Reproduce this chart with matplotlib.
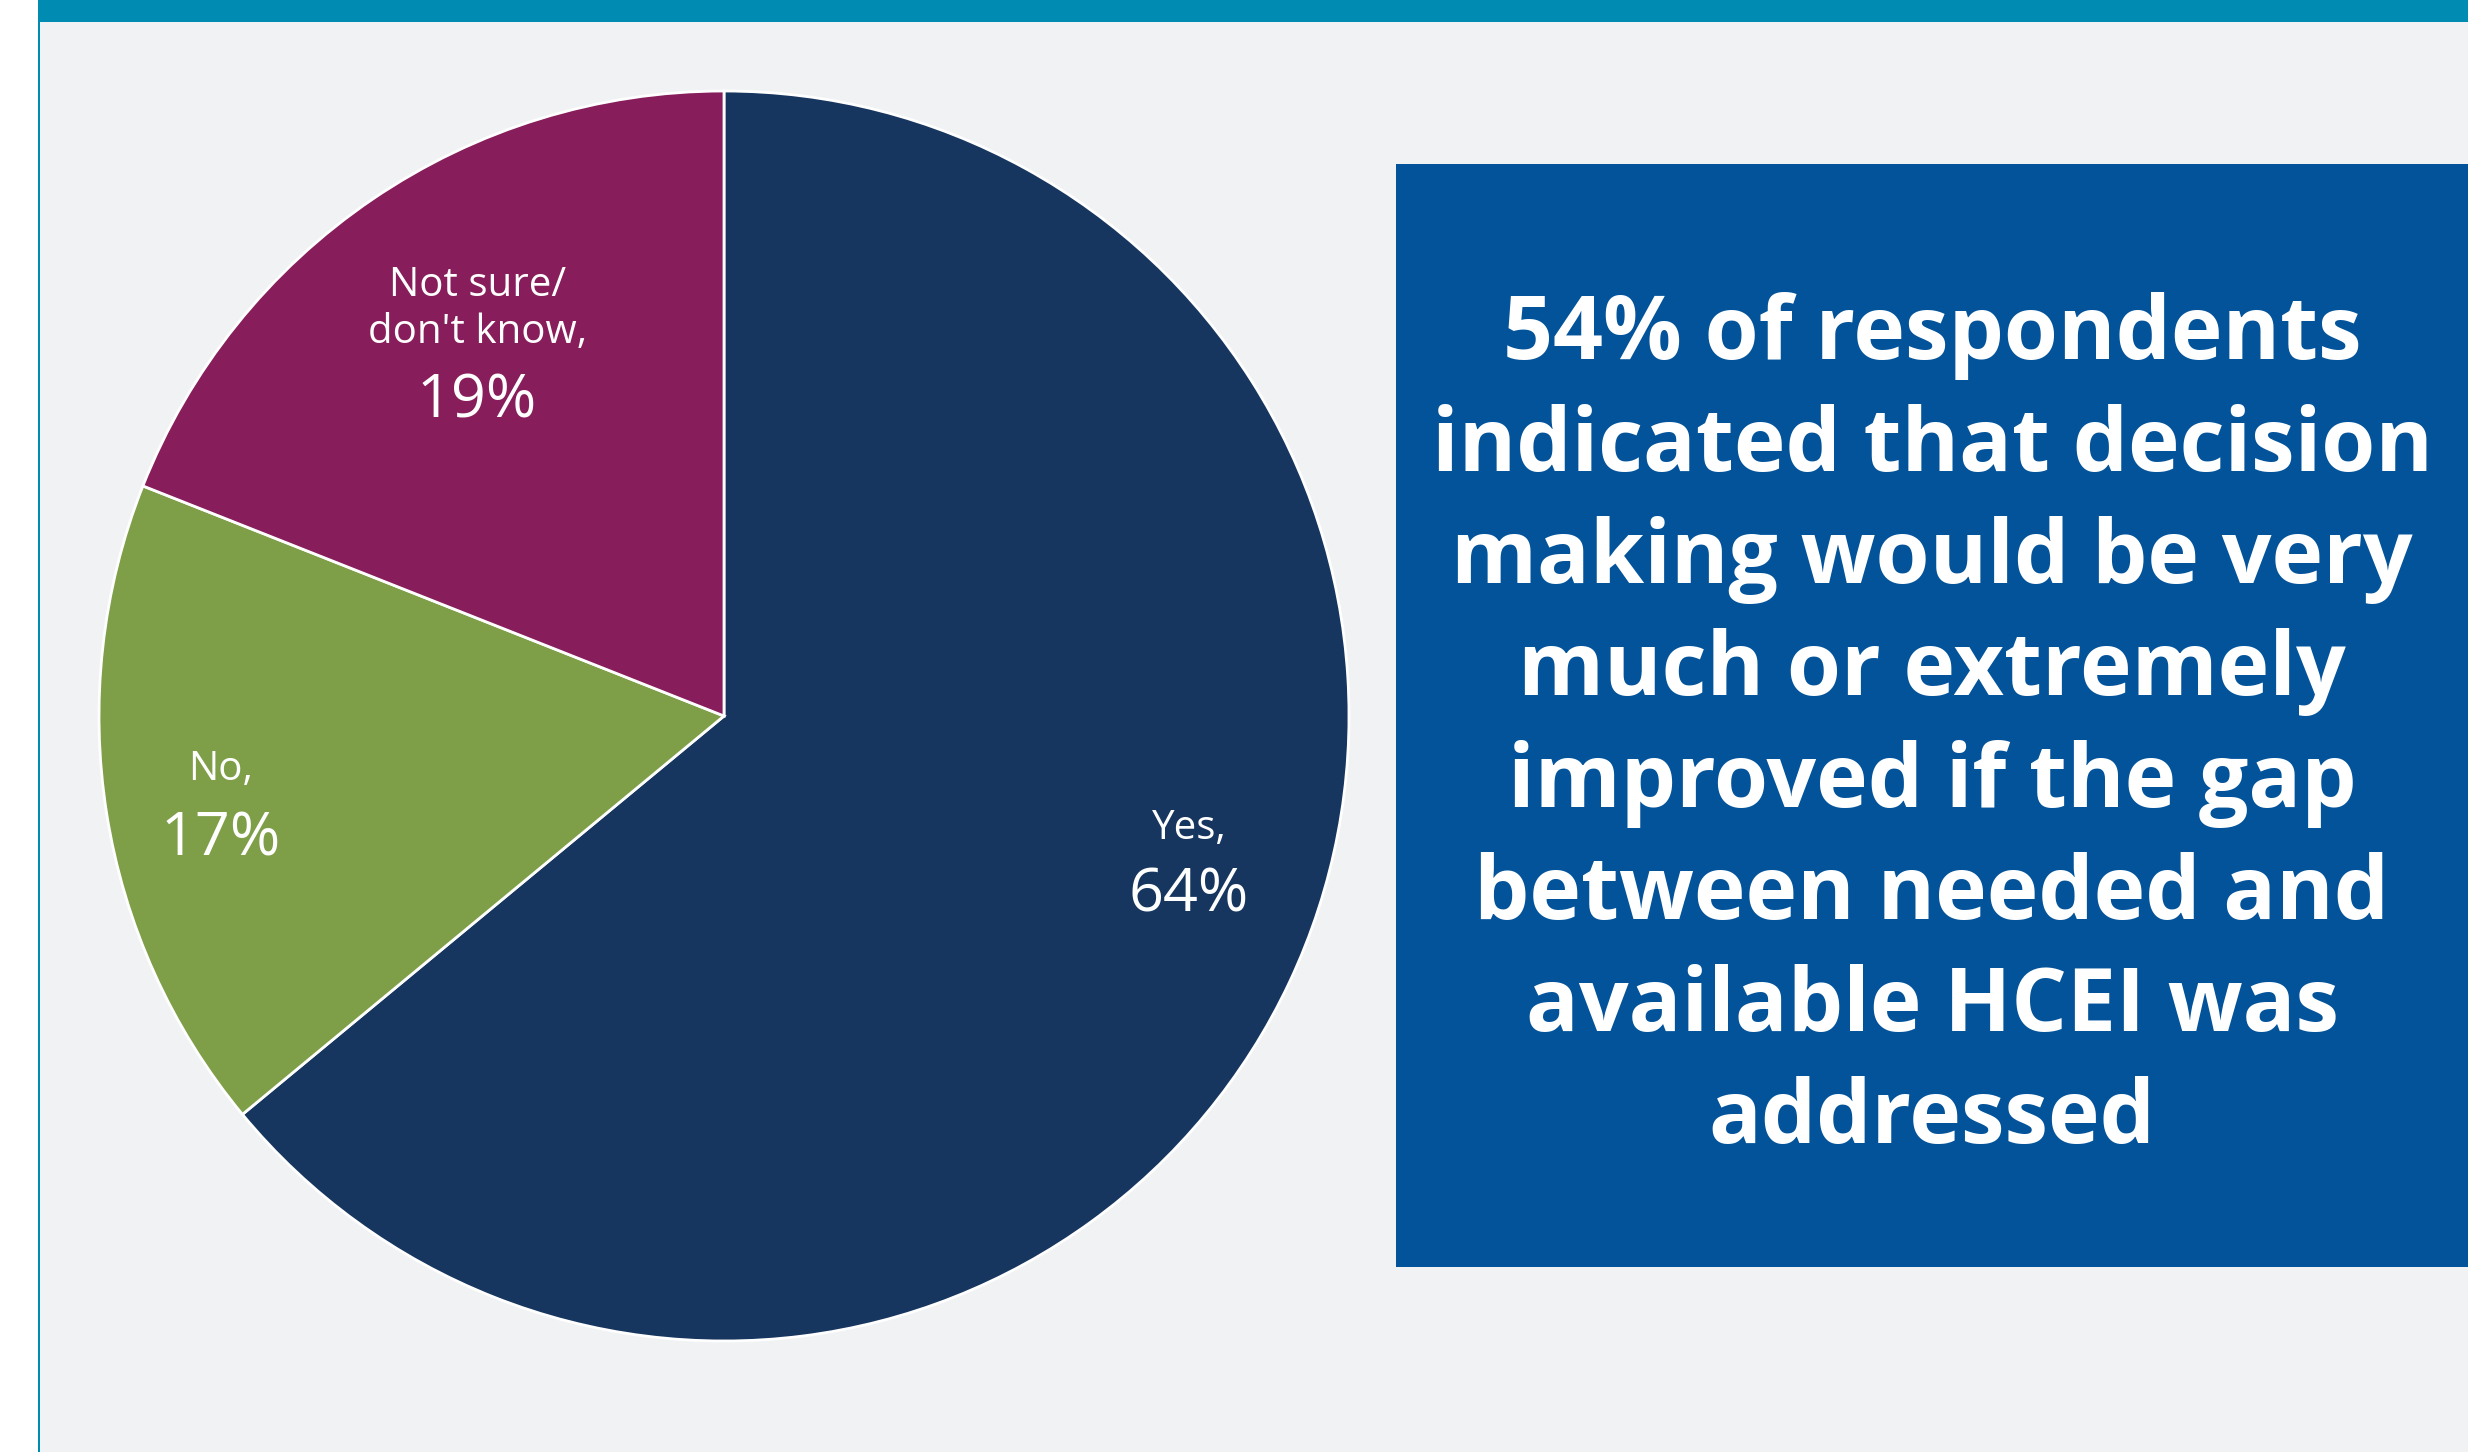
import numpy as np
import matplotlib as mpl
mpl.use('Agg')
from matplotlib import pyplot as plt
from matplotlib.patches import Rectangle

# survey answers, clockwise from 12 o'clock
answers = ['Yes', 'No', 'Not sure/\ndon\'t know']
shares = [64, 17, 19]
colors = ['#17365F', '#7E9F48', '#881D5B']
headline = ('54% of respondents\nindicated that decision\nmaking would be very\n'
            'much or extremely\nimproved if the gap\nbetween needed and\n'
            'available HCEI was\naddressed')

W, H = 2468, 1452
fig = plt.figure(figsize=(W / 100, H / 100), dpi=100)
fig.patch.set_facecolor('white')

# page background, teal header strip and left rule
fig.patches.append(Rectangle((40 / W, 0), 1, 1, transform=fig.transFigure,
                             facecolor='#F1F2F4', edgecolor='none', zorder=0))
fig.patches.append(Rectangle((38 / W, 1 - 22 / H), 1, 22 / H, transform=fig.transFigure,
                             facecolor='#008CB2', edgecolor='none', zorder=1))
fig.patches.append(Rectangle((38 / W, 0), 2 / W, 1, transform=fig.transFigure,
                             facecolor='#008CB2', edgecolor='none', zorder=1))

# pie
cx, cy, r = 724, 716, 625
ax = fig.add_axes([(cx - r) / W, (H - cy - r) / H, 2 * r / W, 2 * r / H])
ax.set_zorder(5)
ax.patch.set_visible(False)
ax.pie(shares, colors=colors, startangle=90, counterclock=False,
       wedgeprops=dict(edgecolor='white', linewidth=2))
ax.set_xlim(-1, 1)
ax.set_ylim(-1, 1)
ax.set_aspect('equal')
ax.axis('off')

lab_font = 'Open Sans'
# (x, y) of the name line and of the percent line, in pie radii
label_pos = {'Yes': ((0.744, -0.180), (0.744, -0.288)),
             'No': ((-0.806, -0.086), (-0.806, -0.197)),
             'Not sure/\ndon\'t know': ((-0.395, 0.651), (-0.395, 0.503))}
for name, val in zip(answers, shares):
    (nx, ny), (px, py) = label_pos[name]
    ax.text(nx, ny, name + ',', ha='center', va='center', color='white',
            fontsize=29, family=lab_font, linespacing=1.22)
    ax.text(px, py, f'{val}%', ha='center', va='center', color='white',
            fontsize=44, family=lab_font)

# callout box
bx0, bx1, by0, by1 = 1396, 2468, 164, 1267
fig.patches.append(Rectangle((bx0 / W, 1 - by1 / H), (bx1 - bx0) / W, (by1 - by0) / H,
                             transform=fig.transFigure, facecolor='#03539B',
                             edgecolor='none', zorder=2))
fig.text((bx0 + bx1) / 2 / W, 1 - 728 / H, headline, ha='center', va='center',
         color='white', fontsize=63, fontweight='bold', family='Open Sans',
         linespacing=1.36, zorder=3)

fig.savefig('out.png', dpi=100)
